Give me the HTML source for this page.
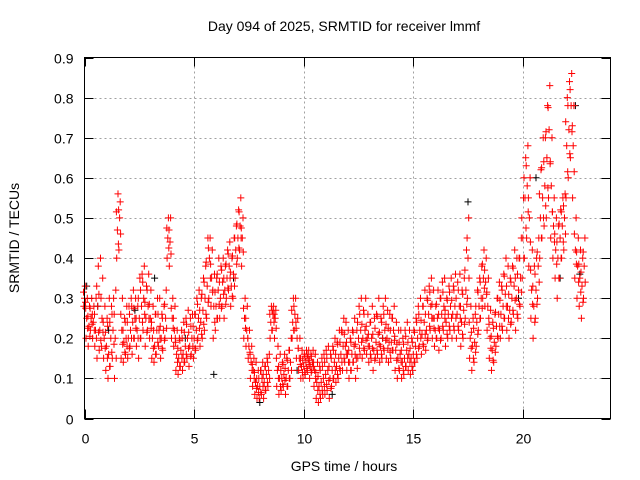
<!DOCTYPE html>
<html><head><meta charset="utf-8"><style>
body{margin:0;background:#fff}
svg{display:block;font-family:"Liberation Sans",Arial,sans-serif}
</style></head><body>
<svg id="chart" width="640" height="480" viewBox="0 0 640 480" xmlns="http://www.w3.org/2000/svg">
<rect width="640" height="480" fill="#fff"/>
<text x="344" y="31" font-size="14" text-anchor="middle">Day 094 of 2025, SRMTID for receiver lmmf</text>
<text transform="translate(19,238) rotate(-90)" font-size="14" text-anchor="middle">SRMTID / TECUs</text>
<text x="344" y="471" font-size="14" text-anchor="middle">GPS time / hours</text>
<g id="grid"></g><g id="ticks"></g><g id="marks"></g>
<rect x="84.5" y="57.5" width="526" height="361" fill="none" stroke="#000" stroke-width="1"/>
</svg>
<script>
const xTicks=[0,5,10,15,20];
const yTicks=[0,0.1,0.2,0.3,0.4,0.5,0.6,0.7,0.8,0.9];
const yTickLabels=["0","0.1","0.2","0.3","0.4","0.5","0.6","0.7","0.8","0.9"];
const tStart=0, tStep=0.1;
const redLow=[.28,.20,.18,.22,.20,.18,.15,.17,.18,.15,
.12,.10,.13,.15,.10,.40,.42,.15,.14,.16,
.15,.18,.16,.20,.18,.15,.20,.22,.18,.22,
.20,.15,.14,.16,.18,.15,.17,.20,.40,.38,
.20,.18,.12,.11,.13,.12,.14,.15,.13,.16,
.15,.17,.20,.18,.20,.22,.25,.30,.28,.20,
.22,.25,.25,.28,.25,.30,.32,.28,.30,.35,
.40,.42,.38,.20,.18,.15,.10,.08,.06,.05,
.05,.06,.05,.07,.08,.20,.22,.20,.08,.06,
.07,.08,.06,.08,.10,.20,.22,.15,.12,.10,
.10,.11,.12,.10,.12,.08,.05,.04,.05,.06,
.06,.07,.05,.08,.10,.09,.10,.12,.12,.14,
.12,.10,.12,.14,.10,.15,.16,.15,.17,.16,
.14,.15,.12,.15,.16,.14,.15,.17,.15,.14,
.15,.17,.12,.10,.12,.10,.11,.13,.12,.11,
.12,.14,.15,.18,.16,.18,.17,.20,.22,.20,
.18,.20,.17,.20,.22,.18,.20,.22,.20,.22,
.20,.22,.18,.20,.25,.30,.15,.12,.14,.18,
.22,.25,.30,.28,.22,.15,.12,.14,.18,.20,
.20,.22,.25,.22,.20,.24,.26,.22,.25,.28,
.35,.40,.45,.38,.25,.20,.25,.30,.40,.45,
.48,.50,.55,.45,.40,.35,.30,.35,.40,.42,
.55,.60,.65,.55,.35,.30,.28,.25,.30];
const redMid=[.30,.25,.23,.25,.24,.22,.28,.22,.25,.20,
.18,.16,.20,.22,.20,.47,.50,.22,.19,.20,
.20,.22,.24,.25,.22,.25,.28,.30,.25,.28,
.25,.20,.18,.22,.22,.20,.22,.25,.45,.44,
.25,.22,.16,.15,.17,.16,.18,.20,.18,.20,
.20,.22,.25,.24,.27,.30,.33,.40,.35,.28,
.28,.32,.30,.34,.32,.35,.38,.33,.36,.42,
.45,.48,.45,.25,.22,.18,.14,.12,.09,.08,
.08,.10,.09,.11,.12,.24,.26,.25,.12,.10,
.10,.11,.10,.12,.14,.24,.26,.20,.15,.13,
.13,.14,.15,.13,.14,.12,.09,.08,.09,.10,
.11,.12,.10,.12,.14,.13,.15,.16,.18,.18,
.16,.14,.16,.18,.15,.20,.22,.20,.22,.20,
.18,.20,.17,.19,.21,.18,.20,.22,.20,.19,
.19,.22,.17,.15,.16,.14,.15,.17,.16,.15,
.16,.18,.20,.22,.21,.24,.22,.26,.28,.25,
.22,.25,.22,.26,.28,.24,.26,.28,.26,.28,
.26,.28,.24,.27,.32,.40,.20,.18,.19,.24,
.28,.30,.35,.34,.28,.20,.17,.19,.23,.26,
.26,.28,.31,.28,.27,.30,.33,.30,.32,.35,
.45,.55,.58,.50,.32,.28,.32,.38,.50,.55,
.58,.65,.72,.58,.48,.42,.40,.45,.48,.50,
.68,.72,.78,.68,.42,.38,.35,.33,.38];
const redHigh=[.33,.30,.28,.30,.28,.30,.38,.40,.35,.28,
.25,.30,.28,.30,.32,.56,.54,.30,.25,.28,
.28,.30,.32,.30,.28,.35,.36,.38,.33,.36,
.32,.28,.26,.30,.30,.26,.28,.32,.50,.50,
.30,.28,.22,.20,.22,.24,.25,.27,.25,.26,
.26,.30,.32,.30,.35,.38,.45,.45,.42,.36,
.35,.40,.38,.40,.38,.42,.44,.40,.45,.48,
.52,.55,.50,.30,.28,.22,.18,.15,.14,.12,
.12,.14,.13,.15,.16,.28,.28,.27,.18,.16,
.14,.16,.15,.17,.20,.30,.30,.25,.20,.17,
.16,.17,.17,.16,.17,.16,.14,.13,.15,.16,
.17,.18,.16,.18,.20,.19,.22,.22,.25,.24,
.22,.20,.22,.25,.22,.28,.30,.27,.30,.26,
.24,.28,.25,.26,.30,.25,.28,.30,.27,.26,
.25,.28,.24,.22,.22,.20,.22,.24,.22,.20,
.22,.25,.28,.30,.28,.32,.30,.33,.35,.32,
.28,.32,.30,.34,.35,.30,.33,.35,.33,.36,
.34,.36,.32,.35,.42,.50,.28,.25,.26,.32,
.35,.38,.42,.40,.35,.27,.24,.26,.30,.34,
.33,.36,.40,.38,.35,.38,.42,.40,.40,.45,
.55,.65,.68,.60,.42,.38,.40,.45,.62,.70,
.70,.78,.83,.70,.55,.50,.48,.52,.55,.56,
.80,.84,.86,.78,.50,.45,.42,.40,.45];
const blackT=[0.1,0.6,1.1,2.3,3.2,4.6,5.9,6.8,8.0,9.7,11.3,13.6,17.5,19.8,20.6,21.7,22.4,22.6];
const blackV=[0.33,0.28,0.22,0.27,0.35,0.20,0.11,0.35,0.04,0.12,0.06,0.20,0.54,0.30,0.60,0.35,0.78,0.36];

const X0=84.5,X1=610.5,Y0=418.5,Y1=57.5;
const xS=t=>X0+(t/24)*(X1-X0);
const yS=v=>Y0-(v/0.9)*(Y0-Y1);
const NS="http://www.w3.org/2000/svg";
const grid=document.getElementById('grid'),ticks=document.getElementById('ticks'),marks=document.getElementById('marks');
function mk(tag,attrs,parent){const e=document.createElementNS(NS,tag);for(const k in attrs)e.setAttribute(k,attrs[k]);parent.appendChild(e);return e;}
yTicks.forEach((v,i)=>{const y=Math.round(yS(v))+0.5;
 if(i>0&&i<yTicks.length-1){const g=mk('line',{x1:X0,x2:X1,y1:y,y2:y,stroke:'#a0a0a0','stroke-dasharray':'2,3'},grid);
 
 }
 mk('line',{x1:X0,x2:X0+9,y1:y,y2:y,stroke:'#000'},ticks);
 mk('line',{x1:X1-9,x2:X1,y1:y,y2:y,stroke:'#000'},ticks);
 const t=mk('text',{x:X0-11,y:y+5,'font-size':14,'text-anchor':'end'},ticks);t.textContent=yTickLabels[i];
 
 });
xTicks.forEach((v,i)=>{const x=Math.round(xS(v))+0.5;
 if(i>0){const g=mk('line',{x1:x,x2:x,y1:Y0,y2:Y1,stroke:'#a0a0a0','stroke-dasharray':'2,3'},grid);
 
 }
 mk('line',{x1:x,x2:x,y1:Y0,y2:Y0-9,stroke:'#000'},ticks);
 mk('line',{x1:x,x2:x,y1:Y1,y2:Y1+9,stroke:'#000'},ticks);
 const t=mk('text',{x:x,y:Y0+25,'font-size':14,'text-anchor':'middle'},ticks);t.textContent=String(v);
 
 });
function plus(x,y){return `M${(x-3.5).toFixed(1)} ${y.toFixed(1)}h7M${x.toFixed(1)} ${(y-3.5).toFixed(1)}v7`;}
let db='';blackT.forEach((t,i)=>{db+=plus(xS(t),yS(blackV[i]));});
const bp=mk('path',{d:db,stroke:'#000',fill:'none','stroke-width':1},marks);


let dr='';
[redLow,redMid,redHigh].forEach((arr,k)=>{arr.forEach((v,i)=>{const t=tStart+i*tStep+(k-1)*0.03;dr+=plus(xS(t),yS(v));});});
redMid.forEach((v,i)=>{const t=tStart+i*tStep;
 dr+=plus(xS(t+0.045),yS((v+redLow[i])/2));
 dr+=plus(xS(t-0.045),yS((v+redHigh[i])/2));});
const rp=mk('path',{d:dr,stroke:'#ff0000',fill:'none','stroke-width':1},marks);


</script>
</body></html>
